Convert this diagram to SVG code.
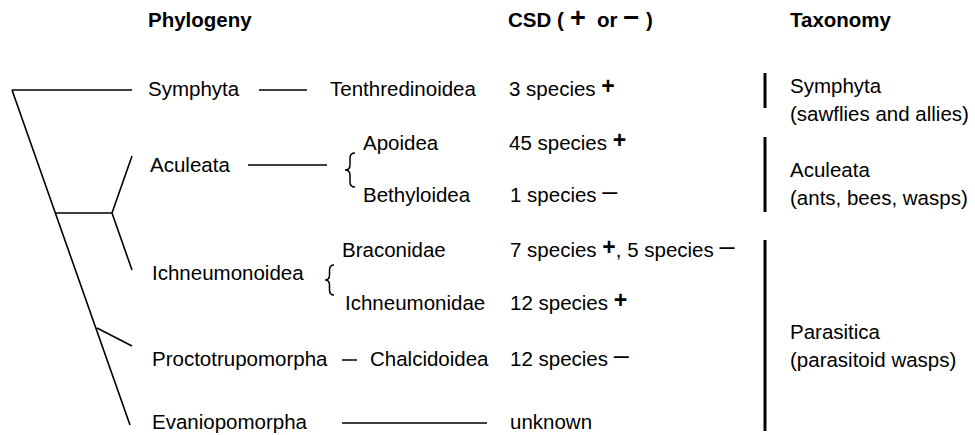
<svg xmlns="http://www.w3.org/2000/svg" width="975" height="435" viewBox="0 0 975 435">
<style>
text{font-family:"Liberation Sans",Arial,Helvetica,sans-serif;font-size:20.5px;fill:#000}
.h{font-weight:bold}
.pm{font-weight:bold;font-size:23px}
.mn{font-size:27px}
.ln{stroke:#000;stroke-width:1.6;fill:none;stroke-linecap:butt}
.br{stroke:#000;stroke-width:1.5;fill:none}
.bar{stroke:#000;stroke-width:3}
</style>
<rect width="975" height="435" fill="#fff"/>
<g id="headers">
<text class="h" x="148" y="27">Phylogeny</text>
<text class="h" x="508" y="27">CSD (<tspan x="570" font-size="27">+</tspan><tspan x="597">or</tspan><tspan x="623" font-size="28">−</tspan><tspan x="646">)</tspan></text>
<text class="h" x="790" y="27">Taxonomy</text>
</g>
<g id="connectors">
<path class="ln" d="M12 90H132M12 90L130 425M55 213H112M112 213L132 156M112 213L132 270M97 328L132 346"/>
<path class="ln" d="M259 90H307M248 165H327M342 360H357M342 423H487"/>
<path class="br" d="M355 153Q350 153 350 158V165Q350 170 345 170Q350 170 350 175V182Q350 187 355 187"/>
<path class="br" d="M334 265Q329.5 265 329.5 270V275Q329.5 280 325 280Q329.5 280 329.5 285V290Q329.5 295 334 295"/>
</g>
<g id="symphyta">
<text x="148" y="96">Symphyta</text>
<text x="330" y="96">Tenthredinoidea</text>
<text x="509" y="96">3 species <tspan class="pm" dy="-2">+</tspan></text>
</g>
<g id="aculeata">
<text x="150" y="172">Aculeata</text>
<text x="363" y="150">Apoidea</text>
<text x="509" y="150">45 species <tspan class="pm" dy="-2">+</tspan></text>
<text x="363" y="202">Bethyloidea</text>
<text x="510" y="202">1 species <tspan class="mn" dy="-2">–</tspan></text>
</g>
<g id="ichneumonoidea">
<text x="152" y="280">Ichneumonoidea</text>
<text x="342" y="257">Braconidae</text>
<text x="510" y="257">7 species <tspan class="pm" dy="-2">+</tspan><tspan dy="2">, 5 species </tspan><tspan class="mn" dy="-2">–</tspan></text>
<text x="345" y="310">Ichneumonidae</text>
<text x="510" y="310">12 species <tspan class="pm" dy="-2">+</tspan></text>
</g>
<g id="proctotrupomorpha">
<text x="152" y="366">Proctotrupomorpha</text>
<text x="370" y="366">Chalcidoidea</text>
<text x="510" y="366">12 species <tspan class="mn" dy="-2">–</tspan></text>
</g>
<g id="evaniopomorpha">
<text x="152" y="429">Evaniopomorpha</text>
<text x="510" y="429">unknown</text>
</g>
<g id="taxonomy">
<line class="bar" x1="765" y1="73" x2="765" y2="108" stroke-width="2"/>
<line class="bar" x1="765" y1="137" x2="765" y2="212"/>
<line class="bar" x1="765" y1="240" x2="765" y2="431"/>
<text x="790" y="93">Symphyta</text>
<text x="790" y="121">(sawflies and allies)</text>
<text x="790" y="177">Aculeata</text>
<text x="790" y="205">(ants, bees, wasps)</text>
<text x="790" y="339">Parasitica</text>
<text x="790" y="367">(parasitoid wasps)</text>
</g>
</svg>
